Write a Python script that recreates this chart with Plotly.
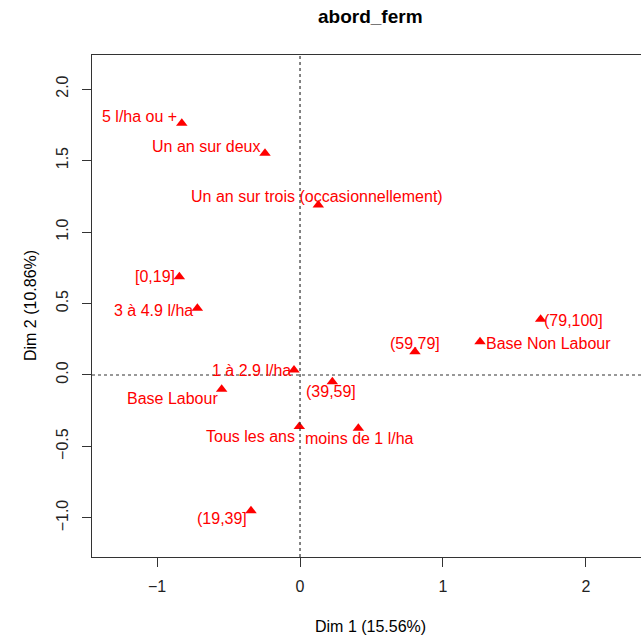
import plotly.graph_objects as go

# MCA factor map: category coordinates on the first two dimensions
categories = [
    "5 l/ha ou +", "Un an sur deux", "Un an sur trois (occasionnellement)",
    "[0,19]", "3 à 4.9 l/ha", "1 à 2.9 l/ha", "Base Labour", "(39,59]",
    "(79,100]", "Base Non Labour", "(59,79]", "Tous les ans",
    "moins de 1 l/ha", "(19,39]",
]
dim1 = [-0.827, -0.245, 0.128, -0.844, -0.718, -0.042, -0.548, 0.226,
        1.683, 1.259, 0.804, -0.005, 0.408, -0.343]
dim2 = [1.760, 1.550, 1.189, 0.687, 0.466, 0.035, -0.100, -0.047,
        0.389, 0.233, 0.163, -0.361, -0.373, -0.949]

x_ticks = [-1, 0, 1, 2]
x_tick_text = ["\u22121", "0", "1", "2"]
y_ticks = [-1.0, -0.5, 0.0, 0.5, 1.0, 1.5, 2.0]
y_tick_text = ["\u22121.0", "\u22120.5", "0.0", "0.5", "1.0", "1.5", "2.0"]

# label placement relative to each marker (pixels; +y is downward here)
label_dx = [-42, -58, -1, -24, -44, -43, -49, -1, 33, 68, 0, -49, 1, -29]
label_dy = [-7, -7, -8, 0, 2, 1, 9, 10, 1, 2, -8, 10, 10, 8]

FONT = "Liberation Sans, Arial, Helvetica, sans-serif"
RED = "#FF0000"
AXIS = "#333333"

fig = go.Figure()
fig.add_trace(go.Scatter(
    x=dim1, y=dim2, mode="markers",
    marker=dict(symbol="triangle-up", size=10, color=RED, line=dict(width=0)),
    hovertext=categories, hoverinfo="text", showlegend=False,
))

annotations = []
for name, xv, yv, dx, dy in zip(categories, dim1, dim2, label_dx, label_dy):
    annotations.append(dict(
        x=xv, y=yv, xref="x", yref="y", text=name, showarrow=False,
        xshift=dx, yshift=-dy, xanchor="center", yanchor="middle",
        font=dict(family=FONT, size=16, color=RED),
    ))

# title and axis titles
annotations.append(dict(
    x=0.508, y=1.0757, xref="paper", yref="paper", text="<b>abord_ferm</b>",
    showarrow=False, xanchor="center", yanchor="middle",
    font=dict(family=FONT, size=19, color="#000000"),
))
annotations.append(dict(
    x=0.508, y=-0.1394, xref="paper", yref="paper", text="Dim 1 (15.56%)",
    showarrow=False, xanchor="center", yanchor="middle",
    font=dict(family=FONT, size=16, color="#000000"),
))
annotations.append(dict(
    x=-0.1129, y=0.5, xref="paper", yref="paper", text="Dim 2 (10.86%)",
    showarrow=False, xanchor="center", yanchor="middle", textangle=-90,
    font=dict(family=FONT, size=16, color="#000000"),
))

shapes = [
    dict(type="line", xref="x", yref="paper", x0=0, x1=0, y0=0, y1=1,
         line=dict(color=AXIS, width=1.2, dash="3px,3px"), layer="above"),
    dict(type="line", xref="paper", yref="y", x0=0, x1=1, y0=0, y1=0,
         line=dict(color=AXIS, width=1.2, dash="3px,3px"), layer="above"),
]

fig.update_layout(
    width=641, height=639,
    margin=dict(l=92, r=0, t=55, b=82, pad=0),
    paper_bgcolor="white", plot_bgcolor="white",
    annotations=annotations, shapes=shapes,
    font=dict(family=FONT, size=16, color="#000000"),
    xaxis=dict(
        range=[-1.455, 2.385], tickvals=x_ticks, ticktext=x_tick_text,
        showgrid=False, zeroline=False, showline=True, mirror=True,
        linecolor=AXIS, linewidth=1.2, ticks="outside", ticklen=9,
        tickcolor=AXIS, tickwidth=1.2, ticklabelstandoff=6,
        tickfont=dict(family=FONT, size=16, color="#222222"),
    ),
    yaxis=dict(
        range=[-1.273, 2.238], tickvals=y_ticks, ticktext=y_tick_text,
        showgrid=False, zeroline=False, showline=True, mirror=False,
        linecolor=AXIS, linewidth=1.2, ticks="outside", ticklen=9,
        tickcolor=AXIS, tickwidth=1.2, tickangle=-90, ticklabelstandoff=8,
        tickfont=dict(family=FONT, size=16, color="#222222"),
    ),
)

fig.write_html("out.html")
